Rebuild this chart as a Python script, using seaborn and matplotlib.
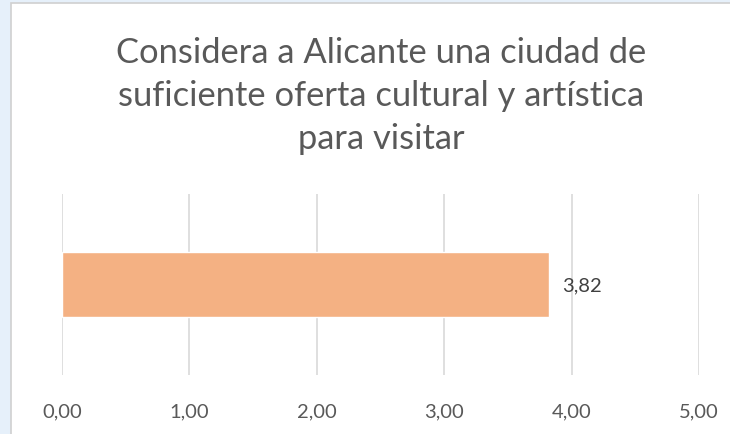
import matplotlib
matplotlib.use("Agg")
import matplotlib.pyplot as plt
import seaborn as sns
import pandas as pd
from matplotlib.patches import Rectangle

categories = ["Oferta cultural"]
values = [3.82]
tick_values = [0, 1, 2, 3, 4, 5]
tick_labels = ["0,00", "1,00", "2,00", "3,00", "4,00", "5,00"]
title = "Considera a Alicante una ciudad de\nsuficiente oferta cultural y artística\npara visitar"

sns.set_theme(style="white")
plt.rcParams['font.family'] = ['Lato', 'DejaVu Sans']

fig = plt.figure(figsize=(7.3, 4.35), dpi=100)
fig.patch.set_facecolor("#e6f0fa")
bg = fig.add_axes([0, 0, 1, 1], zorder=-10)
bg.set_axis_off()
bg.set_xlim(0, 1)
bg.set_ylim(0, 1)
bg.add_patch(Rectangle((11/730, -0.1), 1.0, 1 - 4/435 + 0.1,
                       facecolor="white", edgecolor="#d0d0d0", linewidth=1.2))

ax = fig.add_axes([62/730, 1 - 376/435, (699 - 62)/730, (376 - 195)/435])
ax.set_facecolor("none")
df = pd.DataFrame({"cat": categories, "val": values})
sns.barplot(data=df, x="val", y="cat", orient="h", color="#F4B183", width=0.36,
            saturation=1, ax=ax, zorder=3)
ax.set_xlim(0, 5)
ax.set_ylim(0.5, -0.5)
ax.set_xticks(tick_values)
ax.set_xticklabels(tick_labels, fontsize=14.5, color="#595959")
ax.tick_params(axis="x", length=0, pad=20)
ax.set_yticks([])
ax.set_xlabel("")
ax.set_ylabel("")
for s in ax.spines.values():
    s.set_visible(False)
ax.grid(axis="x", color="#d9d9d9", linewidth=1.2, zorder=0)
ax.set_axisbelow(True)
for c in ax.containers:
    ax.bar_label(c, labels=[f"{v:.2f}".replace(".", ",") for v in values],
                 padding=10, fontsize=14.5, color="#404040")

fig.text(381/730, 1 - 96/435, title, ha="center", va="center", fontsize=24.8,
         color="#595959", linespacing=1.42)

fig.savefig("out.png", dpi=100, facecolor=fig.get_facecolor())
